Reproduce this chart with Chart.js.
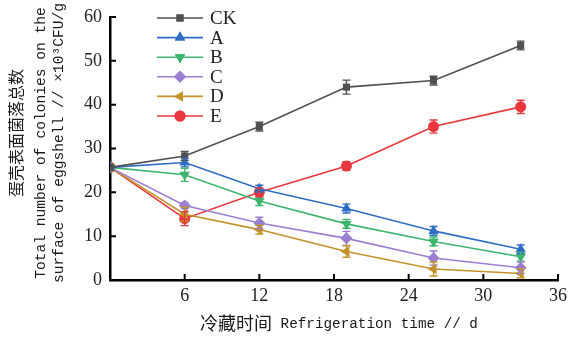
<!DOCTYPE html>
<html>
<head>
<meta charset="utf-8">
<script src="https://cdn.jsdelivr.net/npm/chart.js@4/dist/chart.umd.min.js"></script>
<style>
html,body{margin:0;padding:0;background:#fff;}
#wrap{width:578px;height:339px;}
</style>
</head>
<body>
<div id="wrap"><canvas id="c" width="578" height="339"></canvas></div>
<script>
const days = [0, 6, 12, 19, 26, 33];
const seriesNames = ['CK', 'A', 'B', 'C', 'D', 'E'];
const CK = [25.7, 28.3, 35.0, 44.0, 45.5, 53.5];
const A  = [25.7, 26.8, 20.8, 16.3, 11.2, 7.0];
const B  = [25.7, 24.0, 18.0, 12.8, 8.8, 5.3];
const C  = [25.7, 17.0, 13.0, 9.5, 5.0, 2.8];
const D  = [25.7, 15.0, 11.5, 6.5, 2.5, 1.5];
const E  = [25.7, 14.0, 20.0, 26.0, 35.0, 39.5];
const errCK = [0.4, 1.0, 1.0, 1.6, 1.0, 1.0];
const errA  = [0.4, 1.0, 0.8, 1.0, 1.0, 1.0];
const errB  = [0.4, 1.5, 1.0, 1.0, 1.0, 1.0];
const errC  = [0.4, 0.7, 1.3, 1.6, 1.6, 1.3];
const errD  = [0.4, 1.6, 1.0, 1.3, 1.6, 1.0];
const errE  = [0.4, 1.6, 1.0, 1.0, 1.5, 1.5];
const xTicks = [6, 12, 18, 24, 30, 36];
const yTicks = [0, 10, 20, 30, 40, 50, 60];
const xTitleZh = '冷藏时间';
const xTitleEn = ' Refrigeration time // d';
const yTitleLines = ['蛋壳表面菌落总数', 'Total number of colonies on the', 'surface of eggshell // ×10³CFU/g'];

const colors = ['#505050', '#2e6dc4', '#3db56c', '#9a7fd1', '#c3922a', '#e8383d'];
const styles = ['rect', 'triangle', 'triangle', 'rectRot', 'triangle', 'circle'];
const rots = [0, 0, 180, 0, -90, 0];
const radii = [5, 6, 6, 6, 6, 5.5];
const values = [CK, A, B, C, D, E];
const errs = [errCK, errA, errB, errC, errD, errE];

const datasets = values.map((v, i) => ({
  label: seriesNames[i],
  data: v.map((y, j) => ({x: days[j], y: y})),
  errors: errs[i],
  borderColor: colors[i],
  backgroundColor: colors[i],
  pointStyle: styles[i],
  pointRotation: rots[i],
  pointRadius: radii[i],
  pointBorderWidth: 0,
  borderWidth: 1.6,
  tension: 0
}));

const serif = "'Liberation Serif', 'DejaVu Serif', serif";
const mono = "'Liberation Mono', 'DejaVu Sans Mono', monospace";
const cjk = "'Noto Sans CJK SC', sans-serif";

const errorBars = {
  id: 'errorBars',
  afterDatasetsDraw(chart) {
    const ctx = chart.ctx;
    const xs = chart.scales.x, ys = chart.scales.y;
    chart.data.datasets.forEach((ds) => {
      ctx.save();
      ctx.strokeStyle = ds.borderColor;
      ctx.lineWidth = 1.4;
      ds.data.forEach((p, j) => {
        const e = ds.errors[j];
        if (!e || p.x === 0) return;
        const px = xs.getPixelForValue(p.x);
        const top = ys.getPixelForValue(p.y + e);
        const bot = ys.getPixelForValue(p.y - e);
        ctx.beginPath();
        ctx.moveTo(px, top); ctx.lineTo(px, bot);
        ctx.moveTo(px - 4, top); ctx.lineTo(px + 4, top);
        ctx.moveTo(px - 4, bot); ctx.lineTo(px + 4, bot);
        ctx.stroke();
      });
      ctx.restore();
    });
  }
};

const innerTicks = {
  id: 'innerTicks',
  afterDraw(chart) {
    const ctx = chart.ctx;
    const xs = chart.scales.x, ys = chart.scales.y;
    const area = chart.chartArea;
    ctx.save();
    ctx.strokeStyle = '#000';
    ctx.lineWidth = 2;
    ctx.beginPath();
    xTicks.forEach(t => {
      const px = xs.getPixelForValue(t);
      ctx.moveTo(px, area.bottom); ctx.lineTo(px, area.bottom - 6);
    });
    yTicks.forEach(t => {
      const py = ys.getPixelForValue(t);
      ctx.moveTo(area.left, py); ctx.lineTo(area.left + 6, py);
    });
    ctx.stroke();
    ctx.restore();
  }
};

const axisTitles = {
  id: 'axisTitles',
  afterDraw(chart) {
    const ctx = chart.ctx;
    const area = chart.chartArea;
    ctx.save();
    ctx.fillStyle = '#1a1a1a';
    ctx.textBaseline = 'middle';
    ctx.font = "18px " + cjk;
    const wz = ctx.measureText(xTitleZh).width;
    ctx.font = "14.3px " + mono;
    const we = ctx.measureText(xTitleEn).width;
    const cx = (area.left + area.right) / 2 + 5;
    let sx = cx - (wz + we) / 2;
    ctx.textAlign = 'left';
    ctx.font = "18px " + cjk;
    ctx.fillText(xTitleZh, sx, 323);
    ctx.font = "14.3px " + mono;
    ctx.fillText(xTitleEn, sx + wz, 324);
    const cy = 143;
    const xs = [16, 41, 59];
    const fonts = ["16px " + cjk, "14.6px " + mono, "14.6px " + mono];
    yTitleLines.forEach((t, i) => {
      ctx.save();
      ctx.translate(xs[i], i === 0 ? cy - 10 : cy);
      ctx.rotate(-Math.PI / 2);
      ctx.textAlign = 'center';
      ctx.font = fonts[i];
      ctx.fillText(t, 0, 0);
      ctx.restore();
    });
    ctx.restore();
  }
};

const customLegend = {
  id: 'customLegend',
  afterDraw(chart) {
    const ctx = chart.ctx;
    const x0 = 157, x1 = 203, tx = 210;
    let y = 18;
    chart.data.datasets.forEach((ds, i) => {
      ctx.save();
      ctx.strokeStyle = ds.borderColor;
      ctx.lineWidth = 1.6;
      ctx.beginPath(); ctx.moveTo(x0, y); ctx.lineTo(x1, y); ctx.stroke();
      ctx.fillStyle = ds.backgroundColor;
      Chart.helpers.drawPoint(ctx, {pointStyle: ds.pointStyle, rotation: ds.pointRotation, radius: ds.pointRadius, borderWidth: 0}, (x0 + x1) / 2, y);
      ctx.fill();
      ctx.fillStyle = '#222';
      ctx.font = "19px " + serif;
      ctx.textBaseline = 'middle';
      ctx.textAlign = 'left';
      ctx.fillText(ds.label, tx, y + 1);
      ctx.restore();
      y += 19.6;
    });
  }
};

new Chart(document.getElementById('c'), {
  type: 'line',
  data: {datasets},
  plugins: [errorBars, innerTicks, customLegend, axisTitles],
  options: {
    responsive: false,
    animation: false,
    layout: {padding: {top: 8, right: 20, bottom: 0, left: 0}},
    plugins: {legend: {display: false}, tooltip: {enabled: false}},
    scales: {
      x: {
        type: 'linear', min: 0, max: 36,
        afterBuildTicks: (s) => { s.ticks = [0].concat(xTicks).map(v => ({value: v})); },
        afterFit: (s) => { s.height = 59; },
        ticks: {
          color: '#222', font: {family: serif, size: 18}, padding: 5,
          maxRotation: 0, autoSkip: false,
          callback: (v) => v === 0 ? '' : v
        },
        grid: {display: false, drawTicks: false, tickLength: 0},
        border: {display: true, color: '#000', width: 2.5},
        title: {display: false}
      },
      y: {
        type: 'linear', min: 0, max: 60,
        afterBuildTicks: (s) => { s.ticks = yTicks.map(v => ({value: v})); },
        afterFit: (s) => { s.width = 110; },
        ticks: {color: '#222', font: {family: serif, size: 18, lineHeight: 1}, padding: 8},
        grid: {display: false, drawTicks: false, tickLength: 0},
        border: {display: true, color: '#000', width: 2.5},
        title: {display: false}
      }
    }
  }
});
</script>
</body>
</html>
